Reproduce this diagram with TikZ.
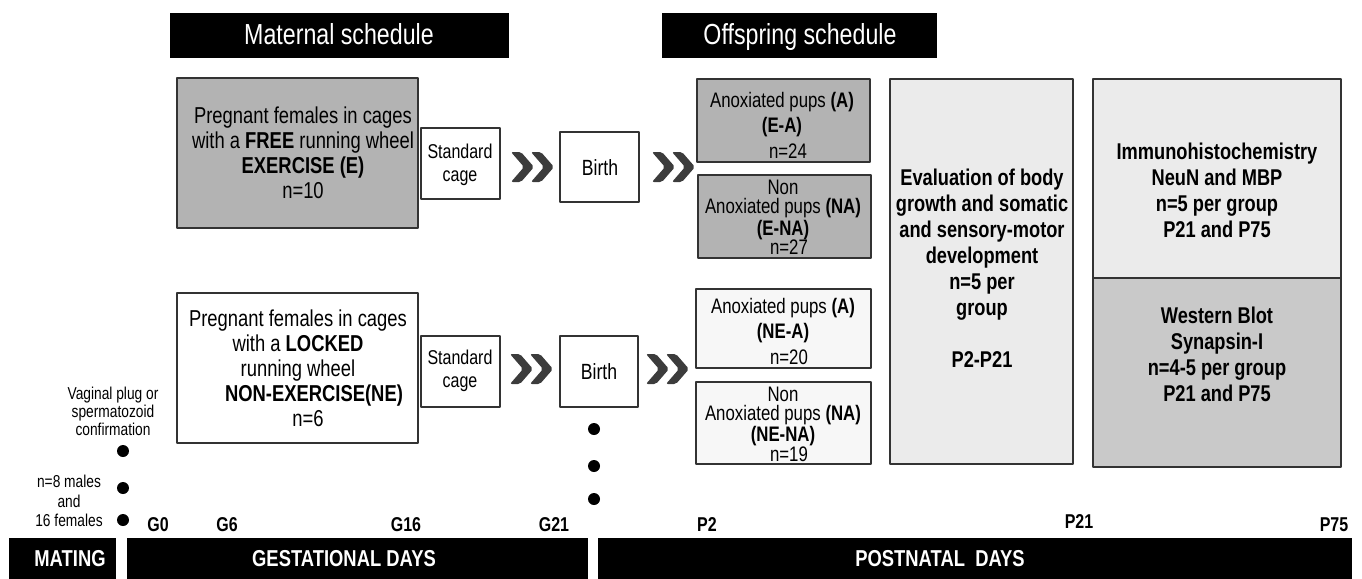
\documentclass[tikz,border=0pt]{standalone}
\usepackage{fontspec}
\setmainfont{Liberation Sans}[FakeStretch=0.8]
\definecolor{boxdark}{HTML}{B3B3B3}
\definecolor{boxlight}{HTML}{EBEBEB}
\definecolor{boxmid}{HTML}{C9C9C9}
\definecolor{boxpale}{HTML}{F7F7F7}
\definecolor{chevgray}{HTML}{3C3C3C}
\definecolor{edgegray}{HTML}{333333}
\tikzset{
  panel/.style={draw=edgegray,line width=0.8pt},
  headtxt/.style={text=white,font=\fontsize{14.5}{16}\selectfont,inner sep=0pt,anchor=base},
  bodytxt/.style={align=center,font=\fontsize{11.5}{12.5}\selectfont,inner sep=0pt},
  pupstxt/.style={align=center,font=\fontsize{10.5}{12.75}\selectfont,inner sep=0pt},
  pupstight/.style={align=center,font=\fontsize{10.5}{9.6}\selectfont,inner sep=0pt},
  cagetxt/.style={align=center,font=\fontsize{10}{11.5}\selectfont,inner sep=0pt},
  assaytxt/.style={align=center,font=\fontsize{11.4}{13}\selectfont\bfseries,inner sep=0pt},
  notetxt/.style={align=center,font=\fontsize{8.6}{9}\selectfont,inner sep=0pt},
  daytxt/.style={font=\fontsize{10}{10}\selectfont\bfseries,inner sep=0pt},
  bartxt/.style={text=white,font=\fontsize{11.5}{12}\selectfont\bfseries,inner sep=0pt},
  chev/.style={fill=chevgray,rounded corners=1pt},
  dot/.style={circle,fill=black,inner sep=0pt,minimum size=6pt}
}
\begin{document}
\begin{tikzpicture}[x=0.5pt,y=-0.5pt,line join=round]
  \useasboundingbox (0,0) rectangle (1362,579);

  % Schedule headers
  \fill (170,13) rectangle (509,58);
  \node[headtxt] (mathead) at (339,44) {Maternal schedule};
  \fill (662,13) rectangle (937,58);
  \node[headtxt] (offhead) at (800,44) {Offspring schedule};

  % Maternal groups
  \draw[panel,fill=boxdark] (177,78) rectangle (418,228);
  \node[bodytxt] (extxt) at (303,153) {Pregnant females in cages\\with a \textbf{FREE} running wheel\\\textbf{EXERCISE (E)}\\n=10};
  \draw[panel,fill=white] (177,293) rectangle (418,443);
  \node[bodytxt] (netxt) at (298,368) {Pregnant females in cages\\with a \textbf{LOCKED}\\running wheel\\\hspace*{16pt}\textbf{NON-EXERCISE(NE)}\\\hspace*{10pt}n=6};

  \draw[panel,fill=white] (421,128) rectangle (500,199);
  \node[cagetxt] (cagetop) at (460,165) {Standard\\cage};
  \draw[panel,fill=white] (421,336) rectangle (500,407);
  \node[cagetxt] (cagebot) at (460,371) {Standard\\cage};

  \draw[panel,fill=white] (560,132) rectangle (639,202);
  \node[font=\fontsize{11}{12}\selectfont,inner sep=0pt] (birthtop) at (600,168) {Birth};
  \draw[panel,fill=white] (560,336) rectangle (638,407);
  \node[font=\fontsize{11}{12}\selectfont,inner sep=0pt] (birthbot) at (599,372) {Birth};

  % Double chevrons between stages
  \foreach \cx/\cy in {511/167,652/167,510/369,646/369}
    \foreach \k in {0,20}
      \fill[chev,shift={(\cx+\k,\cy)}] (0,-15) -- (10,-15) -- (23,0) -- (10,15) -- (0,15) -- (13,0) -- cycle;

  % Offspring groups
  \draw[panel,fill=boxdark] (697,79) rectangle (870,162);
  \node[pupstxt] (eapups) at (782,125) {Anoxiated pups \textbf{(A)}\\\textbf{(E-A)}\\\hspace*{6pt}n=24};
  \draw[panel,fill=boxdark] (698,175) rectangle (871,258);
  \node[pupstight] (enapups) at (783,217) {Non\\Anoxiated pups \textbf{(NA)}\\\textbf{(E-NA)}\\\hspace*{6pt}n=27};
  \draw[panel,fill=boxpale] (696,289) rectangle (871,368);
  \node[pupstxt] (neapups) at (783,331) {Anoxiated pups \textbf{(A)}\\\textbf{(NE-A)}\\\hspace*{6pt}n=20};
  \draw[panel,fill=boxpale] (696,382) rectangle (871,464);
  \node[pupstight] (nenapups) at (783,424) {Non\\Anoxiated pups \textbf{(NA)}\\\textbf{(NE-NA)}\\\hspace*{6pt}n=19};

  % Assessments
  \draw[panel,fill=boxlight] (890,79) rectangle (1073,464);
  \node[assaytxt] (evaltxt) at (982,268) {Evaluation of body\\growth and somatic\\and sensory-motor\\development\\n=5 per\\group\\[13pt]P2-P21};
  \draw[panel,fill=boxlight] (1093,79) rectangle (1341,278);
  \node[assaytxt] (ihctxt) at (1217,190) {Immunohistochemistry\\NeuN and MBP\\n=5 per group\\P21 and P75};
  \draw[panel,fill=boxmid] (1093,278) rectangle (1341,467);
  \node[assaytxt] (wbtxt) at (1217,354) {Western Blot\\Synapsin-I\\n=4-5 per group\\P21 and P75};

  % Mating notes and timeline dots
  \node[notetxt] (plugtxt) at (113,411) {Vaginal plug or\\spermatozoid\\confirmation};
  \node[notetxt,font=\fontsize{8.6}{9.75}\selectfont] (matetxt) at (69,501) {n=8 males\\and\\16 females};
  \foreach \dy [count=\i] in {451,488,520}
    \node[dot] (mdot\i) at (123,\dy) {};
  \foreach \dy [count=\i] in {429,466,499}
    \node[dot] (bdot\i) at (594,\dy) {};

  % Day marks
  \foreach \lbl/\dx/\dy in {G0/158/525,G6/227/525,G16/406/525,G21/554/525,P2/707/525,P21/1079/522,P75/1334/525}
    \node[daytxt] (day\lbl) at (\dx,\dy) {\lbl};

  % Period bars
  \fill (9,538) rectangle (116,579);
  \node[bartxt] (matingbar) at (70,559) {MATING};
  \fill (127,538) rectangle (588,579);
  \node[bartxt] (gestbar) at (344,559) {GESTATIONAL DAYS};
  \fill (598,538) rectangle (1352,579);
  \node[bartxt] (postbar) at (940,559) {POSTNATAL\ \ DAYS};
\end{tikzpicture}
\end{document}
